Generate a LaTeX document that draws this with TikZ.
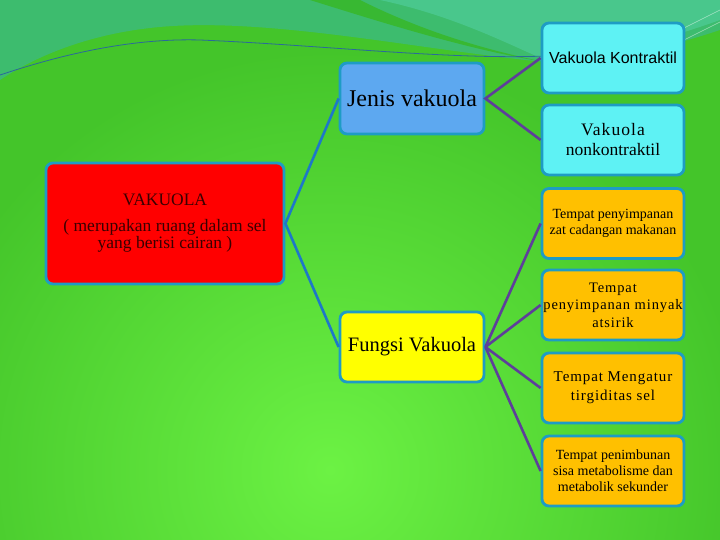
\documentclass[tikz,border=0pt]{standalone}
\usepackage{fontspec}
\setmainfont{Liberation Serif}
\newfontfamily\sansf{Liberation Sans}
\newfontfamily\spacedf[LetterSpace=6]{Liberation Serif}
\definecolor{bggreen}{HTML}{44C52A}
\definecolor{bglight}{HTML}{6CF244}
\definecolor{bgteal}{HTML}{3DBC6E}
\definecolor{bgteal2}{HTML}{52CFA0}
\definecolor{bgstripe}{HTML}{38B832}
\definecolor{thinline}{HTML}{2A6A9A}
\definecolor{edge}{HTML}{1E9CC4}
\definecolor{cyanf}{HTML}{5EF2F4}
\definecolor{bluef}{HTML}{5DA8F0}
\definecolor{redf}{HTML}{FF0000}
\definecolor{yellowf}{HTML}{FFFF00}
\definecolor{orangef}{HTML}{FFC000}
\definecolor{blueline}{HTML}{1E78C8}
\definecolor{purpline}{HTML}{5E3F9A}
\definecolor{redtext}{HTML}{3A0000}
\tikzset{
  bx/.style={draw=edge, line width=2.8pt, rounded corners=7pt, align=center, inner sep=1pt,
    minimum width=142pt, minimum height=70pt, text=black},
  bline/.style={blueline, line width=2.6pt},
  pline/.style={purpline, line width=2.6pt},
}
\begin{document}
\begin{tikzpicture}[x=1pt,y=-1pt]
\useasboundingbox (0,0) rectangle (720,540);
% background
\fill[bggreen] (0,0) rectangle (720,540);
\begin{scope}
\clip (0,0) rectangle (720,540);
\shade[inner color=bglight, outer color=bggreen] (330,470) circle (420);
\fill[bgteal] (0,0) -- (720,0) -- (720,30) .. controls (660,50) and (610,60) .. (545,62)
  .. controls (420,50) and (260,15) .. (150,28) .. controls (80,36) and (30,60) .. (0,80) -- cycle;
\fill[bgstripe] (310,0) .. controls (390,25) and (470,50) .. (545,62) .. controls (460,45) and (400,20) .. (360,0) -- cycle;
\fill[bgteal2, opacity=0.6] (380,0) -- (720,0) -- (720,20) .. controls (650,45) and (600,55) .. (545,60) .. controls (500,40) and (450,15) .. (380,0) -- cycle;
\draw[thinline, line width=0.8pt] (0,75) .. controls (60,55) and (130,38) .. (200,40) .. controls (320,45) and (450,60) .. (545,56);
\draw[white, opacity=0.5, line width=0.6pt] (640,50) -- (720,10);
\draw[white, opacity=0.5, line width=0.6pt] (660,52) -- (720,22);
\end{scope}
% nodes
\node[bx, fill=cyanf, font=\sansf\fontsize{16}{18}\selectfont] (kon) at (613,58) {Vakuola Kontraktil};
\node[bx, fill=cyanf, font=\fontsize{17.5}{20}\selectfont] (non) at (613,140) {{\spacedf Vakuola}\\nonkontraktil};
\node[bx, fill=bluef, minimum width=144pt, minimum height=71pt, font=\fontsize{24}{26}\selectfont] (jen) at (412,98.5) {Jenis vakuola};
\node[bx, fill=redf, minimum width=238pt, minimum height=121pt, text=redtext, font=\fontsize{17.5}{17}\selectfont] (vak) at (165,223.5) {VAKUOLA\\[9pt]( merupakan ruang dalam sel\\yang berisi cairan )};
\node[bx, fill=yellowf, minimum width=144pt, font=\fontsize{20.5}{24}\selectfont] (fun) at (412,347) {Fungsi Vakuola};
\node[bx, fill=orangef, font=\fontsize{14}{16}\selectfont] (f1) at (613,223.5) {Tempat penyimpanan\\zat cadangan makanan};
\node[bx, fill=orangef, font=\spacedf\fontsize{14.5}{17.5}\selectfont] (f2) at (613,305) {Tempat\\penyimpanan minyak\\atsirik};
\node[bx, fill=orangef, font=\spacedf\fontsize{15}{19}\selectfont] (f3) at (613,388) {Tempat Mengatur\\tirgiditas sel};
\node[bx, fill=orangef, font=\fontsize{14}{16}\selectfont] (f4) at (613,471) {Tempat penimbunan\\sisa metabolisme dan\\metabolik sekunder};
% connectors
\draw[bline] (jen.west) -- (vak.east) -- (fun.west);
\draw[pline] (kon.west) -- (jen.east) -- (non.west);
\draw[pline] (f1.west) -- (fun.east);
\draw[pline] (f2.west) -- (fun.east);
\draw[pline] (f3.west) -- (fun.east);
\draw[pline] (f4.west) -- (fun.east);
\end{tikzpicture}
\end{document}
